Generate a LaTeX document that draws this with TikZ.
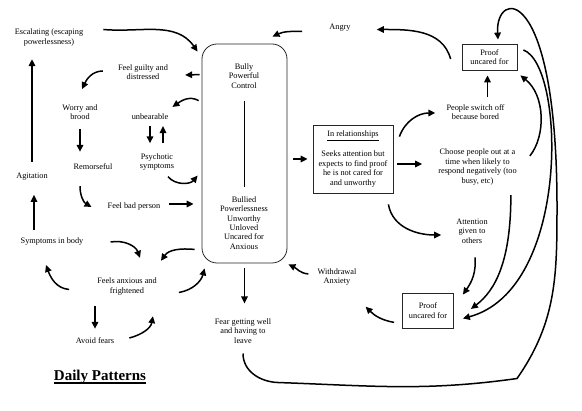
\documentclass[tikz,border=0pt]{standalone}
\usepackage{fontspec}
\setmainfont{Liberation Serif}
\usetikzlibrary{arrows.meta}

\begin{document}
\begin{tikzpicture}[x=10pt, y=10pt,
    txt/.style={align=center, inner sep=1pt, font=\fontsize{8.3}{9.4}\selectfont},
    boxed/.style={txt, draw=black!85, line width=0.8pt},
    arr/.style={-{Triangle[length=7pt,width=6.5pt]}, line width=1.5pt}]
    \useasboundingbox (0,0) rectangle (58.2,-41.1);
    % left loops
    \node (escal) at (4.9,-3.75) [txt] {Escalating (escaping\\powerlessness)};
    \node (guilty) at (14.3,-7.2) [txt] {Feel guilty and\\distressed};
    \node (worry) at (8.0,-11.2) [txt] {Worry and\\brood};
    \node (unbear) at (15.0,-11.7) [txt] {unbearable};
    \node (remorse) at (9.3,-16.7) [txt] {Remorseful};
    \node (psych) at (15.7,-16.2) [txt] {Psychotic\\symptoms};
    \node (agit) at (3.2,-17.7) [txt] {Agitation};
    \node (badperson) at (13.4,-20.7) [txt] {Feel bad person};
    \node (body) at (5.2,-24.2) [txt] {Symptoms in body};
    \node (anxious) at (12.7,-28.65) [txt] {Feels anxious and\\frightened};
    \node (avoid) at (9.5,-34.1) [txt] {Avoid fears};
    \node (title) at (10.0,-38.1) [anchor=base, font=\bfseries\fontsize{15}{18}\selectfont] {\setbox0\hbox{Daily Patterns}\copy0\llap{\rule[-2.6pt]{\wd0}{1.4pt}}};
    % centre
    \node (core) at (24.45,-15.35) [draw=black!85, line width=0.8pt, rounded corners=15pt, minimum width=85pt, minimum height=219pt] {};
    \node (bully) at (24.4,-7.6) [txt] {Bully\\Powerful\\Control};
    \node (bullied) at (24.4,-22.3) [txt] {Bullied\\Powerlessness\\Unworthy\\Unloved\\Uncared for\\Anxious};
    \node (angry) at (34.0,-2.75) [txt] {Angry};
    \node (withdraw) at (33.7,-27.7) [txt] {Withdrawal\\Anxiety};
    \node (fear) at (24.3,-33.1) [txt] {Fear getting well\\and having to\\leave};
    % right side
    \node (rel) at (35.3,-15.9) [boxed, minimum width=80pt, minimum height=68pt] {\underline{In relationships}\\[9.4pt]Seeks attention but\\expects to find proof\\he is not cared for\\and unworthy};
    \node (proof1) at (48.95,-5.7) [boxed, minimum width=55pt, minimum height=26pt] {Proof\\uncared for};
    \node (switch) at (47.55,-11.2) [txt] {People switch off\\because bored};
    \node (choose) at (47.75,-16.7) [txt] {Choose people out at a\\time when likely to\\respond negatively (too\\busy, etc)};
    \node (attn) at (47.2,-23.1) [txt] {Attention\\given to\\others};
    \node (proof2) at (42.8,-31.05) [boxed, minimum width=51pt, minimum height=35pt] {Proof\\uncared for};

    \draw[line width=0.9pt, shorten <=11pt, shorten >=8pt] (bully) -- (bullied);

    \draw[arr] ([shift={(19pt,8pt)}]escal.east) to[out=-5,in=125] ([shift={(-4pt,-8pt)}]core.north west);
    \draw[arr] ([shift={(-2pt,-31pt)}]core.north west) -- ([shift={(16pt,-3pt)}]guilty.east);
    \draw[arr] ([shift={(-14pt,1pt)}]guilty.west) to[out=180,in=65] ([shift={(2pt,14pt)}]worry.north);
    \draw[arr] ([shift={(-3pt,-57pt)}]core.north west) to[out=150,in=35] ([shift={(3pt,10pt)}]unbear.east);
    \draw[arr, shorten <=5pt, shorten >=9pt] (unbear.south) -- (unbear.south |- psych.north);
    \draw[arr, shorten <=9pt, shorten >=5pt] ([xshift=13pt]unbear.south |- psych.north) -- ([xshift=13pt]unbear.south);
    \draw[arr, shorten <=8pt, shorten >=11pt] (worry.south) -- (worry.south |- remorse.north);
    \draw[arr, shorten <=10pt, shorten >=12pt] (agit.north) -- (agit.north |- escal.south);
    \draw[arr, shorten <=7pt, shorten >=13pt] ([xshift=2pt]agit.south |- body.north) -- ([xshift=2pt]agit.south);
    \draw[arr] ([shift={(-13pt,-15pt)}]remorse.south) to[out=-90,in=150] ([xshift=-15pt]badperson.west);
    \draw[arr, shorten <=8pt, shorten >=8pt] ([yshift=3pt]badperson.east) -- ([yshift=3pt]core.west |- badperson.east);
    \draw[arr] ([shift={(11pt,-5pt)}]psych.south) to[out=-50,in=-130] ([shift={(-4pt,-132pt)}]core.north west);
    \draw[arr] ([xshift=26pt]body.east) to[out=10,in=110] ([shift={(13pt,19pt)}]anxious.north);
    \draw[arr] ([shift={(-7pt,14pt)}]core.south west) to[out=175,in=55] ([shift={(3pt,16pt)}]anxious.north east);
    \draw[arr] ([shift={(-27pt,-3pt)}]anxious.west) to[out=175,in=-70] ([shift={(-6pt,-18pt)}]body.south);
    \draw[arr, shorten <=10pt, shorten >=8pt] (avoid.north |- anxious.south) -- (avoid.north);
    \draw[arr] ([shift={(14pt,3pt)}]avoid.east) to[out=15,in=-100] ([shift={(-5pt,-20pt)}]anxious.south east);
    \draw[arr] ([shift={(21pt,-6pt)}]anxious.east) to[out=10,in=-105] ([shift={(3pt,-5pt)}]core.south west);

    \draw[arr, shorten <=5pt, shorten >=14pt] (core.south) -- (core.south |- fear.north);
    \draw[arr] ([shift={(-8pt,3pt)}]withdraw.west) to[out=175,in=-25] ([shift={(1pt,-1pt)}]core.south east);
    \draw[arr, shorten <=6pt, shorten >=5pt] (core.east |- rel.west) -- (rel.west);
    \draw[arr] ([shift={(-26pt,-4pt)}]angry.west) to[out=178,in=25] ([shift={(28pt,7pt)}]core.north);

    \draw[arr] ([shift={(-11pt,-2pt)}]proof1.west) to[out=105,in=0] ([shift={(25pt,-2pt)}]angry.east);
    \draw[arr] ([shift={(6pt,-12pt)}]rel.north east) to[out=70,in=180] ([shift={(-10pt,-1pt)}]switch.west);
    \draw[arr, shorten <=4pt, shorten >=15pt] ([yshift=3pt]rel.east |- choose.west) -- ([yshift=3pt]choose.west);
    \draw[arr] ([shift={(-5pt,-11pt)}]rel.south east) to[out=-80,in=180] ([shift={(-14pt,-4pt)}]attn.west);
    \draw[arr, shorten <=6pt, shorten >=5pt] ([xshift=-2pt]proof1.south |- switch.north) -- ([xshift=-2pt]proof1.south);
    \draw[arr] ([shift={(12pt,-8pt)}]choose.north east) .. controls +(16pt,20pt) and +(25pt,-20pt) .. ([shift={(3pt,-5pt)}]proof1.south east);
    \draw[arr] ([shift={(6pt,7pt)}]proof1.east) .. controls +(42pt,-15pt) and +(108pt,29pt) .. ([shift={(9pt,-8pt)}]proof2.east);
    \draw[arr] ([shift={(-7pt,-9pt)}]choose.south east) .. controls +(0pt,-65pt) and +(25pt,19pt) .. ([shift={(17pt,1.5pt)}]proof2.east);
    \draw[arr] ([shift={(3pt,-13pt)}]attn.south) to[out=-85,in=55] ([shift={(9pt,-2pt)}]proof2.north east);
    \draw[arr] ([shift={(-8pt,6pt)}]proof2.south west) to[out=170,in=-45] ([shift={(8pt,-20pt)}]withdraw.south east);
    \draw[arr] ([yshift=-9pt]fear.south) to[out=-90,in=178] ++(35pt,-29pt) to[out=-2,in=188] ++(239pt,4pt)
        to[out=55,in=-90] ++(40pt,177pt) .. controls +(-1pt,220pt) and +(-3pt,50pt) .. ([shift={(8.5pt,4pt)}]proof1.north);
\end{tikzpicture}
\end{document}
